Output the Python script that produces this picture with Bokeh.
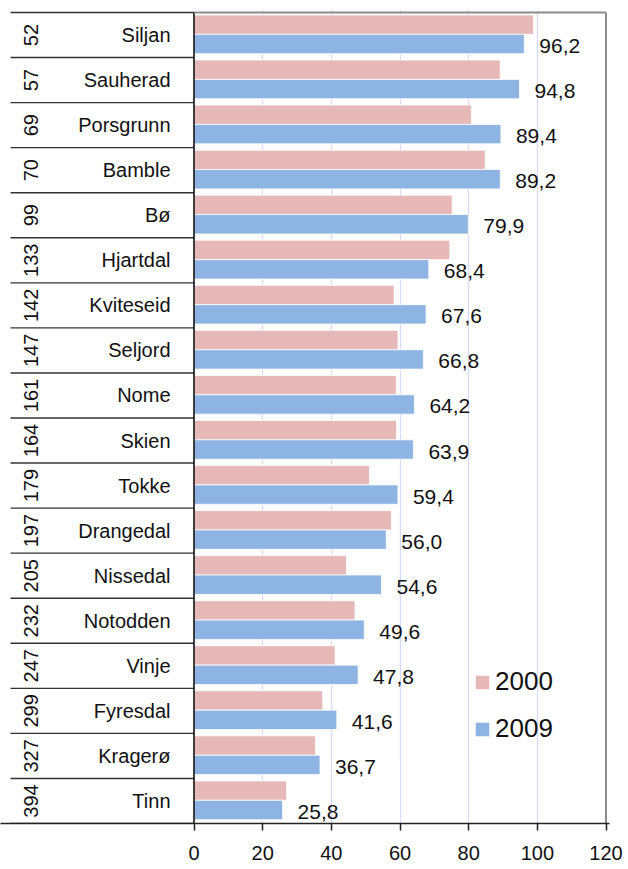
from bokeh.plotting import figure
from bokeh.models import Range1d, FixedTicker, ColumnDataSource, Legend, LegendItem
from bokeh.core.properties import value
from bokeh.embed import file_html
from bokeh.resources import INLINE

# ---- data ----
names = ["Siljan", "Sauherad", "Porsgrunn", "Bamble", "Bø", "Hjartdal", "Kviteseid",
         "Seljord", "Nome", "Skien", "Tokke", "Drangedal", "Nissedal", "Notodden",
         "Vinje", "Fyresdal", "Kragerø", "Tinn"]
ranks = ["52", "57", "69", "70", "99", "133", "142", "147", "161", "164", "179",
         "197", "205", "232", "247", "299", "327", "394"]
v2000 = [98.9, 89.2, 80.8, 84.8, 75.2, 74.5, 58.3, 59.4, 58.9, 59.0, 51.1,
         57.5, 44.4, 46.9, 41.1, 37.5, 35.4, 27.0]
v2009 = [96.2, 94.8, 89.4, 89.2, 79.9, 68.4, 67.6, 66.8, 64.2, 63.9, 59.4,
         56.0, 54.6, 49.6, 47.8, 41.6, 36.7, 25.8]
labels2009 = ["96,2", "94,8", "89,4", "89,2", "79,9", "68,4", "67,6", "66,8", "64,2",
              "63,9", "59,4", "56,0", "54,6", "49,6", "47,8", "41,6", "36,7", "25,8"]
x_ticks = [0, 20, 40, 60, 80, 100, 120]
series_names = ["2000", "2009"]

PINK = "#E6B9B8"
BLUE = "#8EB4E3"
FONT = "Liberation Sans"

n = len(names)
idx = list(range(n))
src = ColumnDataSource(dict(
    row=idx,
    yc=[i + 0.5 for i in idx],
    y2000=[i + 0.27 for i in idx],
    y2009=[i + 0.70 for i in idx],
    v2000=v2000, v2009=v2009, lab=labels2009, name=names, rank=ranks,
))

K = 412.0 / 120.0          # px per unit
XMIN = -193.5 / K
XMAX = 120 + 3.5 / K
ROW = 811.0 / 18.0
p = figure(width=628, height=869, output_backend="svg", toolbar_location=None,
           x_range=Range1d(XMIN, XMAX), y_range=Range1d(n, -3.0 / ROW),
           min_border_left=0, min_border_right=19, min_border_top=9, min_border_bottom=46)
p.outline_line_color = None
p.background_fill_color = "white"
p.border_fill_color = "white"

# axes
p.yaxis.visible = False
p.ygrid.visible = False
p.xaxis.ticker = FixedTicker(ticks=x_ticks)
p.xaxis.axis_line_color = "#222222"
p.xaxis.axis_line_width = 1.5
p.xaxis.major_tick_line_color = "#222222"
p.xaxis.major_tick_line_width = 1.5
p.xaxis.major_tick_out = 7
p.xaxis.major_tick_in = 0
p.xaxis.minor_tick_line_color = None
p.xaxis.major_label_standoff = 15
p.xaxis.major_label_text_font = FONT
p.xaxis.major_label_text_font_size = "20px"
p.xaxis.major_label_text_color = "#111111"
p.xgrid.ticker = FixedTicker(ticks=x_ticks[1:-1])
p.xgrid.grid_line_color = "#D9D9FF"
p.xgrid.grid_line_width = 1.2

# bars
r00 = p.hbar(y="y2000", left=0, right="v2000", height=0.43, source=src,
             fill_color=PINK, line_color="white", line_width=0.8)
r09 = p.hbar(y="y2009", left=0, right="v2009", height=0.43, source=src,
             fill_color=BLUE, line_color="white", line_width=0.8)

# value labels
p.text(x="v2009", y="y2009", text="lab", source=src, x_offset=15, y_offset=2,
       text_align="left", text_baseline="middle", text_font=value(FONT),
       text_font_size="21px", text_color="#111111")

# left table: row separators
ys = list(range(n + 1))
p.segment(x0=[-183.5 / K] * (n + 1), x1=[0] * (n + 1), y0=ys, y1=ys,
          line_color="#333333", line_width=1.4)
# left axis line
p.segment(x0=[0], x1=[0], y0=[0], y1=[n], line_color="#111111", line_width=1.6)
# top and right border of plot area
p.segment(x0=[0, 120], x1=[120, 120], y0=[0, 0], y1=[0, n],
          line_color="#8C8C8C", line_width=2)

# names and ranks
p.text(x=-23.5 / K, y="yc", text="name", source=src, text_align="right",
       text_baseline="middle", text_font=value(FONT), text_font_size="20px",
       text_color="#111111")
p.text(x=-163.0 / K, y="yc", text="rank", source=src, angle=1.5708,
       text_align="center", text_baseline="middle", text_font=value(FONT),
       text_font_size="20px", text_color="#111111")

legend = Legend(items=[LegendItem(label=series_names[0], renderers=[r00]),
                       LegendItem(label=series_names[1], renderers=[r09])],
                location=(473, 79), orientation="vertical",
                glyph_width=18, glyph_height=18, label_standoff=4,
                label_text_font=FONT, label_text_font_size="26px",
                label_text_color="#111111", spacing=16, padding=0, margin=0,
                border_line_color=None, background_fill_alpha=0)
p.add_layout(legend)

open("out.html", "w").write(file_html(p, INLINE))
